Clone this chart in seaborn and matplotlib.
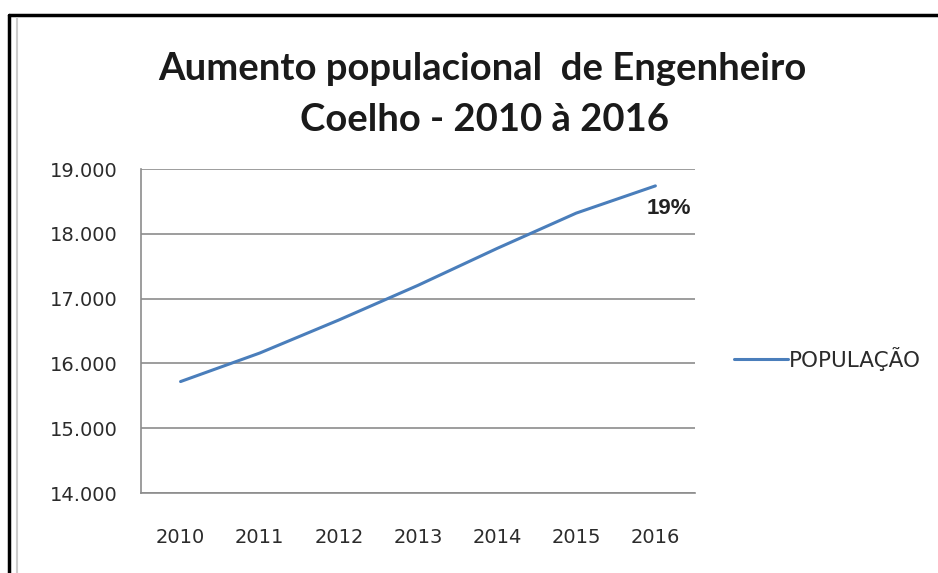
import numpy as np
import pandas as pd
import matplotlib.pyplot as plt
from matplotlib.lines import Line2D
from matplotlib.ticker import MultipleLocator, FuncFormatter
import seaborn as sns

# dados
anos = ["2010", "2011", "2012", "2013", "2014", "2015", "2016"]
populacao = [15720, 16160, 16670, 17205, 17775, 18320, 18740]
serie = "POPULAÇÃO"
rotulo_final = "19%"
titulo = ["Aumento populacional  de Engenheiro", "Coelho - 2010 à 2016"]

df = pd.DataFrame({"pos": np.arange(len(anos)), "ano": anos,
                   "valor": populacao, "serie": serie})

sns.set_style("white")
plt.rcParams['font.family'] = ['DejaVu Sans']

fig = plt.figure(figsize=(9.38, 5.73), dpi=100)
ax = fig.add_axes([0.1503, 0.1396, 0.5906, 0.5654])

sns.lineplot(data=df, x="pos", y="valor", hue="serie",
             palette={serie: "#4A7EBB"}, lw=2.2, ax=ax)

# eixo x no estilo do Excel: marcas entre as categorias
ax.set_xlim(-0.5, len(anos) - 0.5)
ax.set_xticks(df["pos"])
ax.set_xticklabels(anos)
ax.set_xticks(np.arange(len(anos) + 1) - 0.5, minor=True)
ax.tick_params(axis="x", which="major", length=0, pad=25,
               labelsize=14, labelcolor="#2b2b2b")
ax.tick_params(axis="x", which="minor", length=6, width=1.2,
               color="#8c8c8c", direction="out")

ax.set_ylim(14000, 19000)
ax.yaxis.set_major_locator(MultipleLocator(1000))
ax.yaxis.set_major_formatter(FuncFormatter(lambda v, p: f"{v:,.0f}".replace(",", ".")))
ax.tick_params(axis="y", length=7, width=1.2, color="#8c8c8c",
               labelsize=14, labelcolor="#2b2b2b", pad=10)
ax.grid(axis="y", color="#8c8c8c", lw=1.2)
ax.set_axisbelow(True)

for s in ["top", "right"]:
    ax.spines[s].set_visible(False)
for s in ["left", "bottom"]:
    ax.spines[s].set_color("#8c8c8c")
    ax.spines[s].set_linewidth(1.2)

ax.set_xlabel("")
ax.set_ylabel("")

# rótulo no último ponto
ax.annotate(rotulo_final, xy=(df["pos"].iloc[-1], populacao[-1]),
            xytext=(10, -16), textcoords="offset points", ha="center",
            va="center", fontsize=16, fontweight="bold", color="#222222",
            family=["Liberation Sans"])

ax.legend(loc="center left", bbox_to_anchor=(0.762, 0.374),
          bbox_transform=fig.transFigure, frameon=False, handlelength=2.5,
          handletextpad=0.05, fontsize=15.5, labelcolor="#2b2b2b")

fig.text(0.514, 0.86, titulo[0], ha="center", va="baseline", fontsize=27.5,
         fontweight="bold", color="#1a1a1a", family=["Lato", "DejaVu Sans"])
fig.text(0.516, 0.772, titulo[1], ha="center", va="baseline", fontsize=27.5,
         fontweight="bold", color="#1a1a1a", family=["Lato", "DejaVu Sans"])

# moldura
fig.add_artist(Line2D([0.0096, 0.0096], [0, 0.974], color="black", lw=2.5))
fig.add_artist(Line2D([0.0096, 1], [0.974, 0.974], color="black", lw=2.5))
fig.add_artist(Line2D([0.018, 0.018], [0, 0.968], color="#cccccc", lw=1.5))

fig.savefig("out.png", dpi=100)
